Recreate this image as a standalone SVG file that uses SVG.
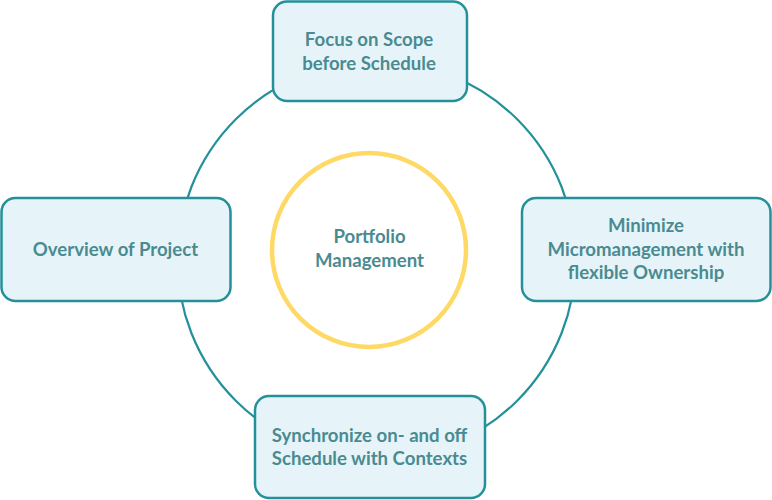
<svg xmlns="http://www.w3.org/2000/svg" width="772" height="500" viewBox="0 0 772 500">
<style>
.box{fill:#e6f4f9;stroke:#23909a;stroke-width:2.5}
.ring{fill:none;stroke:#23909a;stroke-width:2.2}
.hub{fill:#ffffff;stroke:#ffd966;stroke-width:4.5}
text{font-family:Lato,"Liberation Sans",sans-serif;font-weight:700;font-size:18.6px;fill:#4a8b91;text-anchor:middle}
</style>
<rect width="772" height="500" fill="#ffffff"/>
<g id="connectors">
<circle class="ring" cx="376.5" cy="260" r="199"/>
</g>
<g id="hub">
<circle class="hub" cx="369" cy="250" r="97"/>
<text x="369.5" y="243">Portfolio</text>
<text x="369.5" y="267">Management</text>
</g>
<g id="node-top">
<rect class="box" x="273" y="1.5" width="194" height="99.5" rx="14"/>
<text x="369" y="46">Focus on Scope</text>
<text x="369" y="69.5">before Schedule</text>
</g>
<g id="node-left">
<rect class="box" x="1.5" y="198" width="229" height="103" rx="14"/>
<text x="115.5" y="256">Overview of Project</text>
</g>
<g id="node-right">
<rect class="box" x="522" y="198" width="248.5" height="103" rx="14"/>
<text x="646" y="232">Minimize</text>
<text x="646" y="255.5">Micromanagement with</text>
<text x="646" y="279">flexible Ownership</text>
</g>
<g id="node-bottom">
<rect class="box" x="255" y="396" width="230" height="102" rx="14"/>
<text x="369.5" y="442">Synchronize on- and off</text>
<text x="369.5" y="464.5">Schedule with Contexts</text>
</g>
</svg>
